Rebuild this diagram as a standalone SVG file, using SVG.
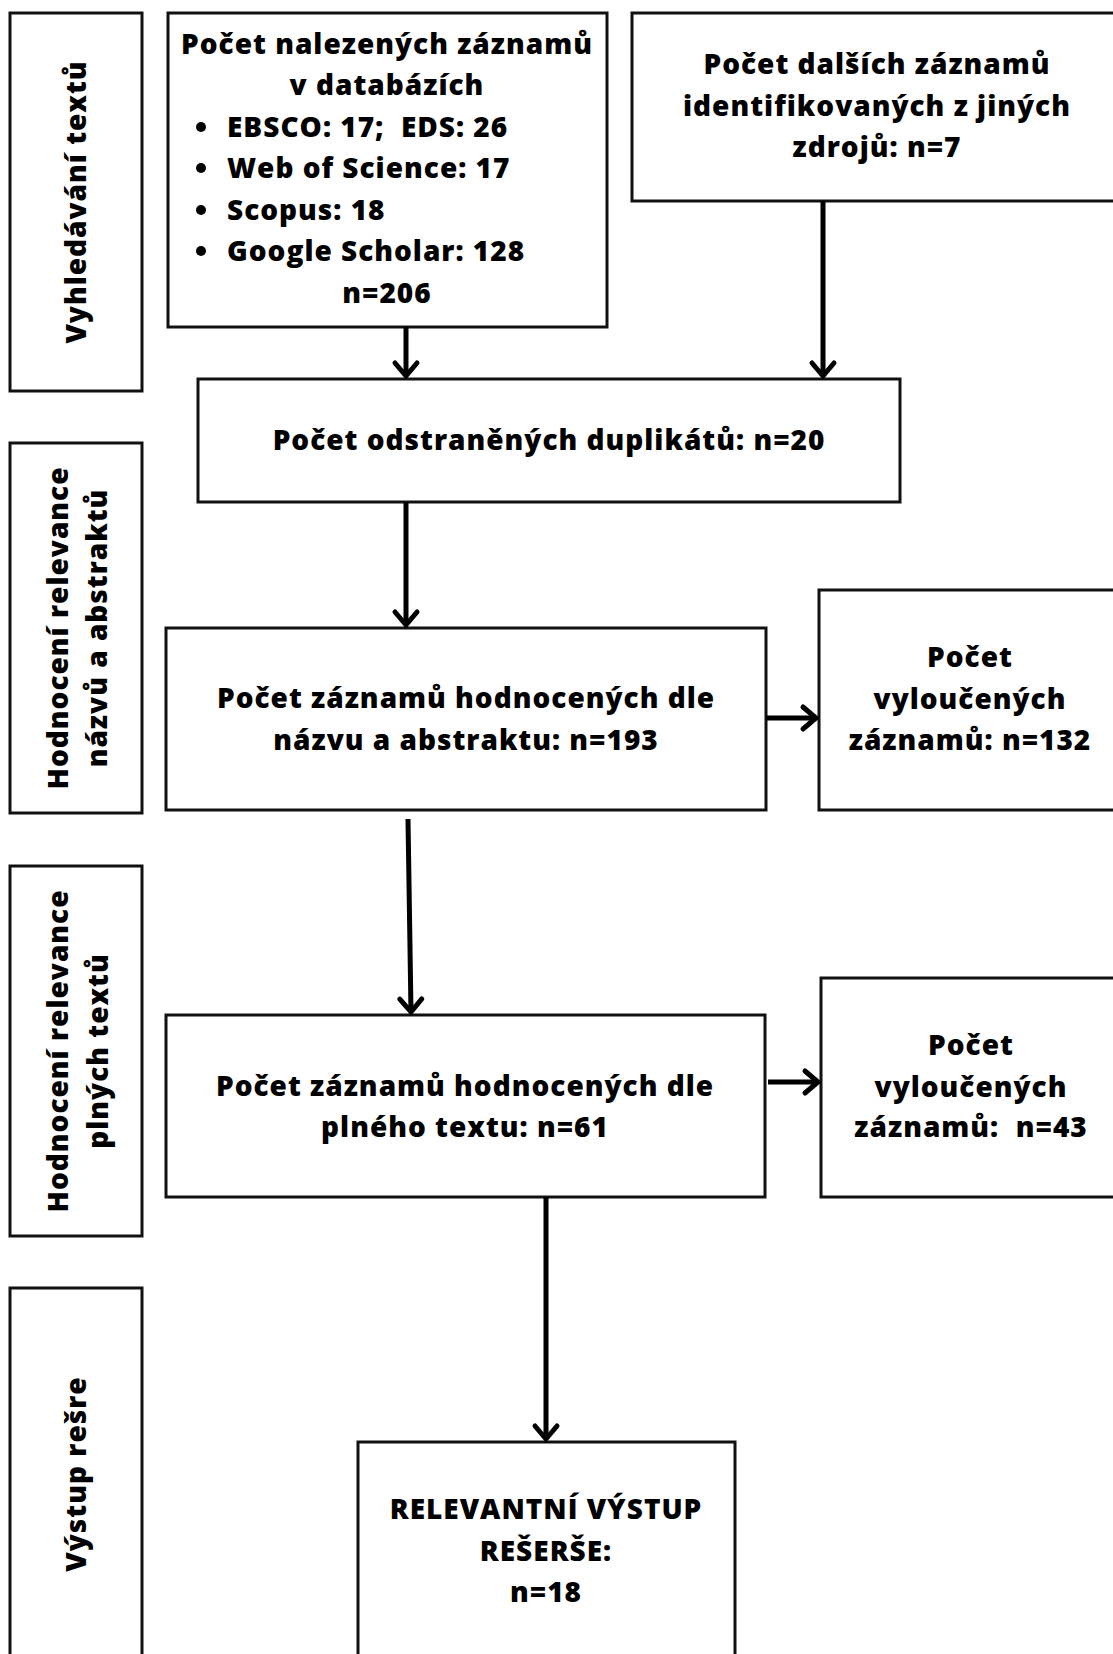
<svg xmlns="http://www.w3.org/2000/svg" width="1113" height="1654" viewBox="0 0 1113 1654">
<style>
.box{fill:#fff;stroke:#111;stroke-width:3}
.t{font-family:"Open Sans","Liberation Sans",sans-serif;font-weight:800;font-size:28px;letter-spacing:1px;fill:#000;text-anchor:middle;white-space:pre}
.tl{font-family:"Open Sans","Liberation Sans",sans-serif;font-weight:800;font-size:28px;letter-spacing:1px;fill:#000;white-space:pre}
.c{fill:none;stroke:#000;stroke-width:5}
</style>
<defs>
<marker id="ah" markerUnits="userSpaceOnUse" markerWidth="40" markerHeight="40" viewBox="-20 -20 40 40" refX="0" refY="0" orient="auto" overflow="visible">
<path d="M-13,-11 L0,0 L-13,11" fill="none" stroke="#000" stroke-width="5" stroke-linecap="round" stroke-linejoin="miter"/>
</marker>
</defs>
<rect width="1113" height="1654" fill="#fff"/>

<g id="lane1">
<rect class="box" x="10" y="13" width="132" height="378"/>
<text class="t" transform="translate(86,202) rotate(-90)">Vyhledávání textů</text>
</g>
<g id="lane2">
<rect class="box" x="10" y="443" width="132" height="370"/>
<text class="t" transform="translate(68,628) rotate(-90)">Hodnocení relevance</text>
<text class="t" transform="translate(107,628) rotate(-90)">názvů a abstraktů</text>
</g>
<g id="lane3">
<rect class="box" x="10" y="866" width="132" height="370"/>
<text class="t" transform="translate(68,1051) rotate(-90)">Hodnocení relevance</text>
<text class="t" transform="translate(108,1051) rotate(-90)">plných textů</text>
</g>
<g id="lane4">
<rect class="box" x="10" y="1288" width="132" height="380"/>
<text class="t" transform="translate(86,1474) rotate(-90)">Výstup rešre</text>
</g>

<g id="databases">
<rect class="box" x="168" y="13" width="439" height="314"/>
<text class="t" x="387" y="54">Počet nalezených záznamů</text>
<text class="t" x="387" y="95">v databázích</text>
<circle cx="201" cy="127" r="5"/>
<text class="tl" x="227" y="137">EBSCO: 17;  EDS: 26</text>
<circle cx="201" cy="168" r="5"/>
<text class="tl" x="227" y="178">Web of Science: 17</text>
<circle cx="201" cy="210" r="5"/>
<text class="tl" x="227" y="220">Scopus: 18</text>
<circle cx="201" cy="251" r="5"/>
<text class="tl" x="227" y="261">Google Scholar: 128</text>
<text class="t" x="387" y="303">n=206</text>
</g>

<g id="other">
<rect class="box" x="632" y="13" width="490" height="188"/>
<text class="t" x="877" y="74">Počet dalších záznamů</text>
<text class="t" x="877" y="116">identifikovaných z jiných</text>
<text class="t" x="877" y="157">zdrojů: n=7</text>
</g>

<g id="duplicates">
<rect class="box" x="198" y="379" width="702" height="123"/>
<text class="t" x="549" y="450">Počet odstraněných duplikátů: n=20</text>
</g>

<g id="screen1">
<rect class="box" x="166" y="628" width="600" height="182"/>
<text class="t" x="466" y="708">Počet záznamů hodnocených dle</text>
<text class="t" x="466" y="750">názvu a abstraktu: n=193</text>
</g>

<g id="excl1">
<rect class="box" x="819" y="590" width="303" height="220"/>
<text class="t" x="970" y="667">Počet</text>
<text class="t" x="970" y="709">vyloučených</text>
<text class="t" x="970" y="750">záznamů: n=132</text>
</g>

<g id="screen2">
<rect class="box" x="166" y="1015" width="599" height="182"/>
<text class="t" x="465" y="1096">Počet záznamů hodnocených dle</text>
<text class="t" x="465" y="1137">plného textu: n=61</text>
</g>

<g id="excl2">
<rect class="box" x="821" y="978" width="301" height="219"/>
<text class="t" x="971" y="1055">Počet</text>
<text class="t" x="971" y="1097">vyloučených</text>
<text class="t" x="971" y="1137">záznamů:  n=43</text>
</g>

<g id="final">
<rect class="box" x="358" y="1442" width="377" height="230"/>
<text class="t" x="546" y="1519">RELEVANTNÍ VÝSTUP</text>
<text class="t" x="546" y="1561">REŠERŠE:</text>
<text class="t" x="546" y="1602">n=18</text>
</g>

<g id="connectors">
<line class="c" x1="406" y1="327" x2="406" y2="376" marker-end="url(#ah)"/>
<line class="c" x1="823" y1="201" x2="823" y2="376" marker-end="url(#ah)"/>
<line class="c" x1="406" y1="502" x2="406" y2="625" marker-end="url(#ah)"/>
<line class="c" x1="408" y1="819" x2="411" y2="1012" marker-end="url(#ah)"/>
<line class="c" x1="766" y1="718" x2="816" y2="718" marker-end="url(#ah)"/>
<line class="c" x1="768" y1="1082" x2="818" y2="1082" marker-end="url(#ah)"/>
<line class="c" x1="546" y1="1197" x2="546" y2="1439" marker-end="url(#ah)"/>
</g>
</svg>
